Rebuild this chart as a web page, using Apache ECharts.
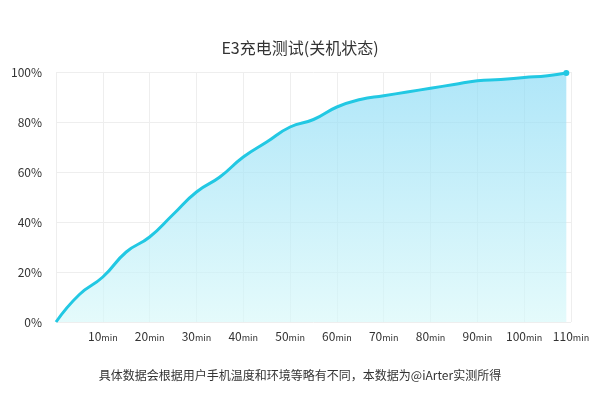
<!DOCTYPE html>
<html><head><meta charset="utf-8">
<script src="https://cdn.jsdelivr.net/npm/echarts@6/dist/echarts.min.js"></script>
<style>html,body{margin:0;padding:0;background:#fff}#c{width:600px;height:400px}</style>
</head><body><div id="c"></div>
<script>
const minutes = [0,5,10,15,20,25,30,35,40,45,50,55,60,65,70,75,80,85,90,95,100,105,109];
const percent = [0,11,18,28,34,43,52,58,66,72,78,81,86,89,90.5,92,93.5,95,96.5,97,97.8,98.5,99.6];
const title = 'E3充电测试(关机状态)';
const note = '具体数据会根据用户手机温度和环境等略有不同，本数据为@iArter实测所得';
const F = '"Noto Sans CJK SC","Noto Sans",sans-serif';
const data = minutes.map((m,i)=>[m,percent[i]]);
const chart = echarts.init(document.getElementById('c'));
chart.setOption({
  animation:false,
  title:[{text:title,left:'center',top:35,textStyle:{fontFamily:F,fontSize:16,fontWeight:'normal',color:'#333'}},
         {text:note,left:'center',top:364,textStyle:{fontFamily:F,fontSize:12,fontWeight:'normal',color:'#333'}}],
  grid:{left:56,right:29,top:72,bottom:78},
  xAxis:{type:'value',min:0,max:110,interval:10,
    axisLine:{show:false},axisTick:{show:false},
    splitLine:{show:true,lineStyle:{color:'#eeeeee'}},
    axisLabel:{margin:8,fontFamily:F,color:'#333',fontSize:12,
      formatter:v=>v===0?'':'{n|'+v+'}{u|min}',rich:{n:{fontSize:12,color:'#333',fontFamily:F,verticalAlign:'bottom'},u:{fontSize:9,color:'#333',fontFamily:F,verticalAlign:'bottom'}}}},
  yAxis:{type:'value',min:0,max:100,interval:20,
    axisLine:{show:false},axisTick:{show:false},
    splitLine:{lineStyle:{color:'#eeeeee'}},
    axisLabel:{formatter:'{value}%',fontFamily:F,color:'#333',fontSize:12,margin:14}},
  series:[{type:'line',smooth:true,data:data,
    symbol:'circle',symbolSize:(v,p)=>p.dataIndex===data.length-1?6:0,
    itemStyle:{color:'#22c8e3'},
    lineStyle:{color:'#22c8e3',width:3},
    areaStyle:{color:new echarts.graphic.LinearGradient(0,0,0,1,[{offset:0,color:'#8ddbf5'},{offset:1,color:'#d8f8f9'}])}}]
});
</script></body></html>
